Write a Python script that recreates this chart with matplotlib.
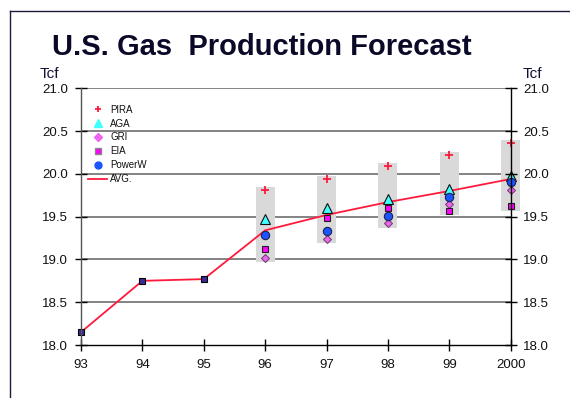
import matplotlib
matplotlib.use("Agg")
import matplotlib.pyplot as plt
from matplotlib.lines import Line2D

plt.rcParams['font.family'] = ['Liberation Sans', 'DejaVu Sans']

# Years on the axis (93..2000 mapped to 93..100)
years = [93, 94, 95, 96, 97, 98, 99, 100]
year_labels = ["93", "94", "95", "96", "97", "98", "99", "2000"]

# Historical production (Tcf)
hist_years = [93, 94, 95]
hist_values = [18.15, 18.75, 18.77]

# Forecast years and individual forecasts (Tcf)
fc_years = [96, 97, 98, 99, 100]
pira = [19.81, 19.94, 20.09, 20.22, 20.36]
aga = [19.47, 19.60, 19.71, 19.82, 19.98]
gri = [19.02, 19.24, 19.42, 19.65, 19.81]
eia = [19.12, 19.48, 19.60, 19.57, 19.62]
powerw = [19.29, 19.33, 19.51, 19.73, 19.91]

# Average path (history then forecast average)
avg = [18.15, 18.75, 18.77, 19.34, 19.52, 19.67, 19.80, 19.94]

y_ticks = [18.0, 18.5, 19.0, 19.5, 20.0, 20.5, 21.0]

fig = plt.figure(figsize=(5.70, 3.98), dpi=100)
ax = fig.add_axes([81 / 570, 1 - 345 / 398, (510.7 - 81) / 570, (345 - 88.3) / 398])

ax.set_xlim(93, 100)
ax.set_ylim(18.0, 21.0)

# Horizontal grid
for yv in y_ticks[1:]:
    ax.axhline(yv, color="#7a7a7a", lw=1.3, zorder=1)

# Range boxes behind each forecast year
series = [pira, aga, gri, eia, powerw]
for i, yr in enumerate(fc_years):
    vals = [s[i] for s in series]
    lo, hi = min(vals) - 0.05, max(vals) + 0.04
    ax.bar(yr, hi - lo, bottom=lo, width=0.31, color="#d9d9d9",
           edgecolor="none", zorder=2, clip_on=False)

# Average line
ax.plot(years, avg, color="#ff1a3c", lw=1.3, zorder=3, clip_on=False)
ax.plot(hist_years, hist_values, ls="none", marker="s", ms=4,
        mfc="#3a2a9a", mec="black", mew=0.8, zorder=4, clip_on=False)

# Forecast markers
mk = dict(ls="none", zorder=5, clip_on=False)
ax.plot(fc_years, pira, marker="+", ms=5.5, mew=1.3, color="#ff1a3c", **mk)
ax.plot(fc_years, aga, marker="^", ms=7.5, mfc="#40ffff",
        mec="#101010", mew=0.8, **mk)
ax.plot(fc_years, gri, marker="D", ms=4.5, mfc="#ee66ee",
        mec="#6a3a6a", mew=0.7, **mk)
ax.plot(fc_years, eia, marker="s", ms=5, mfc="#ff00ff",
        mec="#202020", mew=0.8, **mk)
ax.plot(fc_years, powerw, marker="o", ms=6, mfc="#1a55ff",
        mec="#202050", mew=0.8, **mk)

# Spines
ax.spines["top"].set_visible(False)
ax.spines["right"].set_color("black")
ax.spines["left"].set_color("#555555")
ax.spines["bottom"].set_color("black")
for s in ax.spines.values():
    s.set_linewidth(1.0)
    s.set_zorder(6)

ax.set_xticks(years)
ax.set_xticklabels(year_labels)
ax.set_yticks(y_ticks)
ax.set_yticklabels([f"{v:.1f}" for v in y_ticks])
ax.tick_params(axis="both", direction="inout", length=8, width=1.0,
               labelsize=9.5, colors="black", labelcolor="#111111")
ax.tick_params(axis="x", pad=6)
ax.tick_params(axis="y", pad=5.5)

ax2 = ax.twinx()
ax2.set_ylim(ax.get_ylim())
ax2.set_yticks(y_ticks)
ax2.set_yticklabels([f"{v:.1f}" for v in y_ticks])
ax2.tick_params(axis="y", direction="inout", length=8, width=1.0,
                labelsize=9.5, pad=5, labelcolor="#111111")
for s in ax2.spines.values():
    s.set_visible(False)

# Legend
handles = [
    Line2D([], [], ls="none", marker="+", ms=5, mew=1.3, color="#ff1a3c"),
    Line2D([], [], ls="none", marker="^", ms=6, mfc="#40ffff", mec="#40ffff"),
    Line2D([], [], ls="none", marker="D", ms=4, mfc="#ee66ee", mec="#ee66ee"),
    Line2D([], [], ls="none", marker="s", ms=5, mfc="#ff00ff", mec="#888888"),
    Line2D([], [], ls="none", marker="o", ms=5, mfc="#1a55ff", mec="#1a55ff"),
    Line2D([], [], color="#ff1a3c", lw=1.3),
]
labels = ["PIRA", "AGA", "GRI", "EIA", "PowerW", "AVG."]
leg = ax.legend(handles, labels, loc="upper left",
                bbox_to_anchor=(0.005, 0.955), frameon=False, fontsize=7,
                handlelength=2.0, handletextpad=0.3, labelspacing=0.4,
                borderaxespad=0.3, borderpad=0.2)
for t in leg.get_texts():
    t.set_color("#111111")

# Title and unit labels
fig.text(262 / 570, 1 - 55 / 398, "U.S. Gas  Production Forecast",
         ha="center", va="baseline", fontsize=21, fontweight="bold",
         color="#0a0a28")
fig.text(40 / 570, 1 - 78 / 398, "Tcf", ha="left", va="baseline",
         fontsize=11, color="#111133")
fig.text(523 / 570, 1 - 78 / 398, "Tcf", ha="left", va="baseline",
         fontsize=11, color="#111133")

# Slide frame lines (left and top)
fig.add_artist(Line2D([10 / 570, 10 / 570], [0, 1 - 11 / 398],
                      transform=fig.transFigure, color="#1a1a3a", lw=1.0))
fig.add_artist(Line2D([10 / 570, 1], [1 - 11 / 398, 1 - 11 / 398],
                      transform=fig.transFigure, color="#1a1a3a", lw=1.0))

fig.savefig("out.png", dpi=100, facecolor="white")
